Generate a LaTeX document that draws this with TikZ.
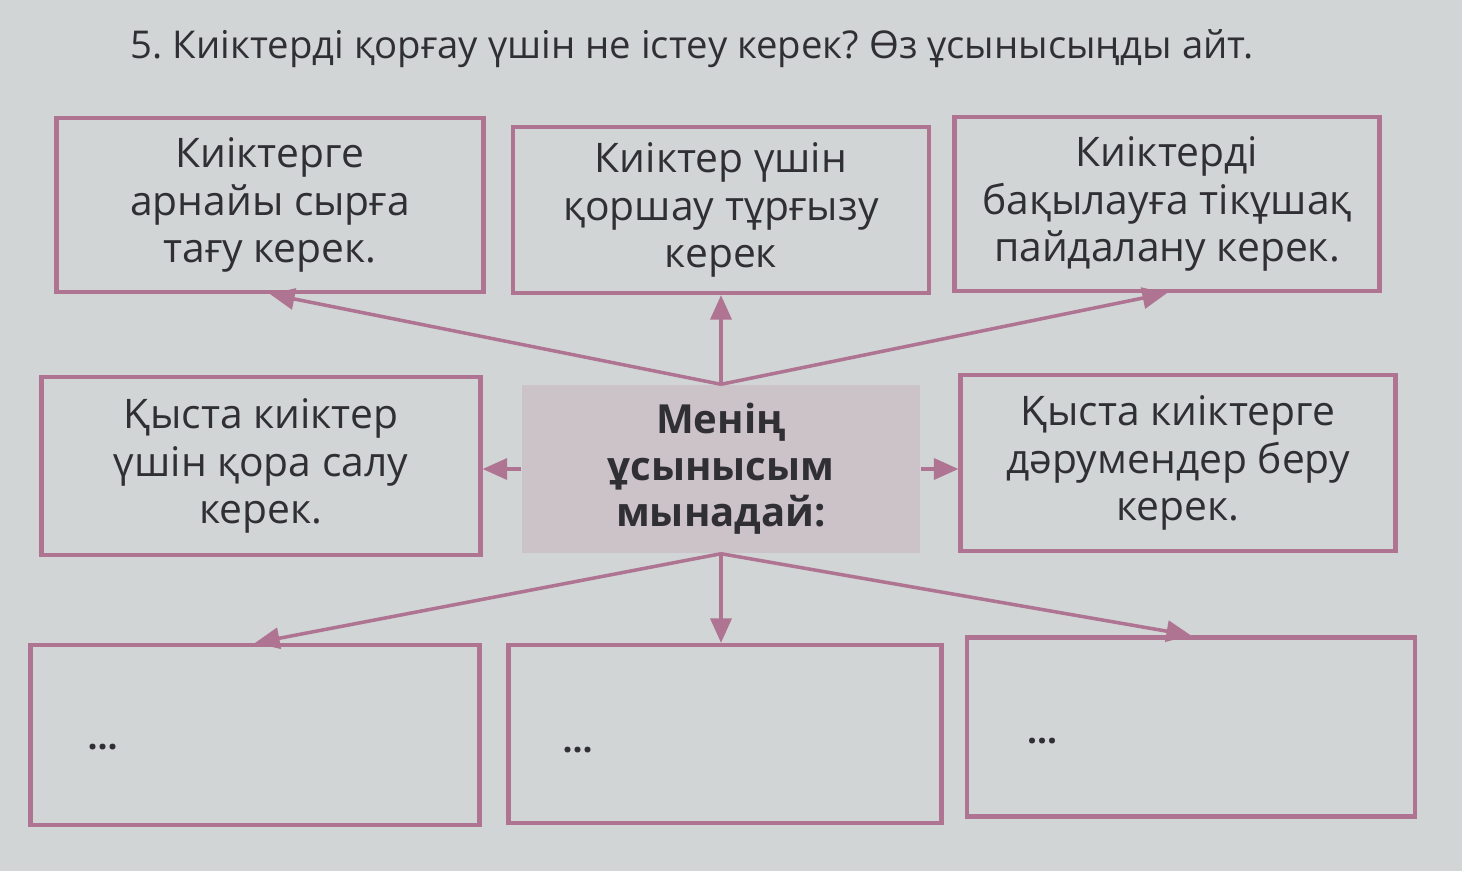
\documentclass[tikz,border=0pt]{standalone}
\usepackage{fontspec}
\setmainfont{Open Sans}
\frenchspacing
\usetikzlibrary{arrows.meta,positioning}
\definecolor{figpage}{RGB}{210,213,213}
\definecolor{figline}{RGB}{174,116,146}
\definecolor{figfill}{RGB}{204,195,200}
\definecolor{figtext}{RGB}{48,48,52}
\tikzset{
  box/.style  ={draw=figline, line width=1.2pt, align=center, text=figtext, inner sep=2pt,
                font=\fontsize{11.6}{13.4}\selectfont},
  cbox/.style ={fill=figfill, align=center, text=figtext, inner sep=2pt,
                font=\fontsize{11.4}{13.2}\selectfont\bfseries},
  dots/.style ={text=figtext, font=\normalsize\bfseries, inner sep=1pt},
  ttl/.style  ={text=figtext, font=\fontsize{10.9}{12}\selectfont, inner sep=0pt},
  ptr/.style  ={draw=figline, line width=1.0pt, -{Triangle[length=7pt,width=6pt]}},
}
\begin{document}
\begin{tikzpicture}
  \fill[figpage] (0,0) rectangle (14.62,8.71);
  \useasboundingbox (0,0) rectangle (14.62,8.71);
  \node[ttl,anchor=west] (title) at (1.30,8.22)
    {5. Киіктерді қорғау үшін не істеу керек? Өз ұсынысыңды айт.};
  % top row
  \node[box,minimum width=4.27cm,minimum height=1.74cm] (tl) at (2.70,6.66)
    {Киіктерге\\арнайы сырға\\тағу керек.};
  \node[box,minimum width=4.16cm,minimum height=1.66cm] (tm) at (7.21,6.61)
    {Киіктер үшін\\қоршау тұрғызу\\керек};
  \node[box,minimum width=4.25cm,minimum height=1.74cm] (tr) at (11.67,6.67)
    {Киіктерді\\бақылауға тікұшақ\\пайдалану керек.};
  % middle row
  \node[box,minimum width=4.39cm,minimum height=1.78cm] (ml) at (2.61,4.05)
    {Қыста киіктер\\үшін қора салу\\керек.};
  \node[cbox,minimum width=3.98cm,minimum height=1.68cm] (c) at (7.21,4.02)
    {Менің\\ұсынысым\\мынадай:};
  \node[box,minimum width=4.35cm,minimum height=1.76cm] (mr) at (11.78,4.08)
    {Қыста киіктерге\\дәрумендер беру\\керек.};
  % bottom row
  \node[box,minimum width=4.49cm,minimum height=1.80cm] (bl) at (2.55,1.36) {};
  \node[box,minimum width=4.33cm,minimum height=1.78cm] (bm) at (7.25,1.37) {};
  \node[box,minimum width=4.48cm,minimum height=1.79cm] (br) at (11.91,1.44) {};
  \node[dots,right=0.55 of bl.west,yshift=-0.12cm] (dl) {...};
  \node[dots,right=0.52 of bm.west,yshift=-0.16cm] (dm) {...};
  \node[dots,right=0.58 of br.west,yshift=-0.14cm] (dr) {...};
  % arrows
  \draw[ptr] (c.north) -- (tl.south);
  \draw[ptr] (c.north) -- (tm.south);
  \draw[ptr] (c.north) -- (tr.south);
  \draw[ptr] (c.west) -- (c.west -| ml.east);
  \draw[ptr] (c.east) -- (c.east -| mr.west);
  \draw[ptr] (c.south) -- (bl.north);
  \draw[ptr] (c.south) -- (c.south |- bm.north);
  \draw[ptr] (c.south) -- (br.north);
\end{tikzpicture}
\end{document}
